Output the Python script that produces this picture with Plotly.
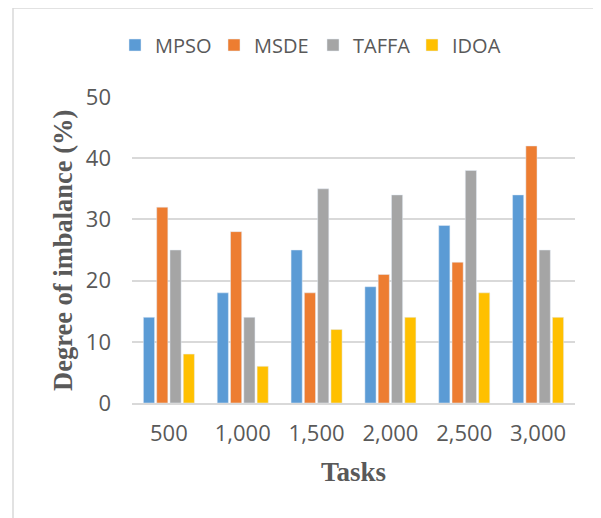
import plotly.graph_objects as go

tasks = ["500", "1,000", "1,500", "2,000", "2,500", "3,000"]
mpso = [14, 18, 25, 19, 29, 34]
msde = [32, 28, 18, 21, 23, 42]
taffa = [25, 14, 35, 34, 38, 25]
idoa = [8, 6, 12, 14, 18, 14]

series = [("MPSO", mpso, "#5B9BD5"), ("MSDE", msde, "#ED7D31"),
          ("TAFFA", taffa, "#A5A5A5"), ("IDOA", idoa, "#FFC000")]

fig = go.Figure()
for name, vals, col in series:
    fig.add_trace(go.Bar(x=tasks, y=vals, name=name, marker_color=col))

OFF = 8  # page body margin
W, H = 593, 510
L, R, T, B = 124, 26, 89, 115
pw, ph = W - L - R, H - T - B
px = lambda p: (p - OFF - L) / pw
py = lambda p: (H - B - (p - OFF)) / ph

gray = "#595959"
fig.update_layout(
    width=W, height=H,
    margin=dict(l=L, r=R, t=T, b=B, pad=0),
    paper_bgcolor="white", plot_bgcolor="white",
    barmode="group", bargap=0.28, bargroupgap=0.16,
    font=dict(family="Open Sans", size=22, color=gray),
    legend=dict(orientation="h", x=px(115), y=py(45), xanchor="left", yanchor="middle",
                font=dict(size=20, color=gray), itemwidth=30, tracegroupgap=0,
                entrywidth=54, entrywidthmode="pixels",
                bgcolor="rgba(0,0,0,0)"),
    xaxis=dict(showgrid=False, showline=True, linecolor="#D9D9D9", linewidth=1.5,
               ticks="", tickfont=dict(size=22, color=gray), ticklabelstandoff=10),
    yaxis=dict(range=[0, 50], dtick=10, showgrid=True, gridcolor="#D9D9D9", gridwidth=1.5,
               zeroline=False, showline=False, ticks="",
               tickfont=dict(size=22, color=gray), ticklabelstandoff=20),
    annotations=[
        dict(text="<b>Degree of imbalance (%)</b>", textangle=-90, xref="paper", yref="paper",
             x=px(63), y=py(251), xanchor="center", yanchor="middle", showarrow=False,
             font=dict(family="Liberation Serif", size=26.5, color=gray)),
        dict(text="<b>Tasks</b>", xref="paper", yref="paper",
             x=px(353), y=py(472), xanchor="center", yanchor="middle", showarrow=False,
             font=dict(family="Liberation Serif", size=27, color=gray)),
    ],
    shapes=[
        dict(type="line", xref="paper", yref="paper", x0=px(13), x1=px(13), y0=py(8), y1=py(600),
             line=dict(color="#D9D9D9", width=1.5)),
        dict(type="line", xref="paper", yref="paper", x0=px(13), x1=px(700), y0=py(8), y1=py(8),
             line=dict(color="#D9D9D9", width=1.5)),
    ],
)
fig.write_html("out.html")
